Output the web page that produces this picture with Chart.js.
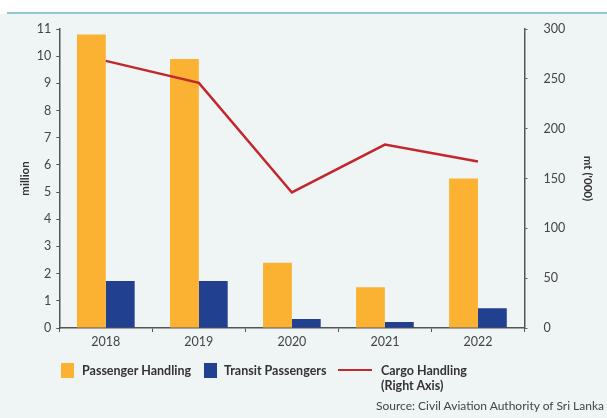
<!DOCTYPE html>
<html>
<head>
<meta charset="utf-8">
<script src="https://cdn.jsdelivr.net/npm/chart.js@4.4.0/dist/chart.umd.min.js"></script>
<style>
  html, body { margin: 0; padding: 0; background: #ffffff; }
  #wrap { position: relative; width: 607px; height: 418px; overflow: hidden; font-family: Lato, "DejaVu Sans", sans-serif; }
  #panel { position: absolute; left: 0; top: 14px; width: 607px; height: 404px; background: #eff4f4; }
  #rule { position: absolute; left: 7px; top: 12px; width: 600px; height: 2px; background: #8fcad0; }
  #chart { position: absolute; left: 0; top: 0; }
  .leg { position: absolute; font-size: 12.5px; font-weight: bold; color: #333; line-height: 15px; }
  .box { position: absolute; width: 13px; height: 15px; }
  #source { position: absolute; right: 3px; top: 398px; font-size: 12px; color: #444; }
</style>
</head>
<body>
<div id="wrap">
  <div id="panel"></div>
  <div id="rule"></div>
  <canvas id="chart" width="607" height="418"></canvas>
  <div class="box" style="left:61px; top:363px; background:#fbb233;"></div>
  <div class="leg" style="left:82px; top:363px;">Passenger Handling</div>
  <div class="box" style="left:204px; top:363px; background:#21408f;"></div>
  <div class="leg" style="left:224px; top:363px;">Transit Passengers</div>
  <div style="position:absolute; left:338px; top:369px; width:34px; height:2px; background:#c2272d;"></div>
  <div class="leg" style="left:381px; top:363px;">Cargo Handling<br>(Right Axis)</div>
  <div id="source">Source: Civil Aviation Authority of Sri Lanka</div>
</div>
<script>
var years = ["2018", "2019", "2020", "2021", "2022"];
var passengerHandling = [10.8, 9.9, 2.4, 1.5, 5.5];
var transitPassengers = [1.73, 1.73, 0.33, 0.22, 0.73];
var cargoHandling = [268, 246, 136, 184, 167];

var tickFont = { family: "Lato, 'DejaVu Sans', sans-serif", size: 12.5 };

new Chart("chart", {
    type: "bar",
    data: {
        labels: years,
        datasets: [{
            type: "line",
            label: "Cargo Handling (Right Axis)",
            data: cargoHandling,
            yAxisID: "y1",
            borderColor: "#c2272d",
            borderWidth: 2.5,
            pointRadius: 0,
            tension: 0,
            order: 0
        }, {
            label: "Passenger Handling",
            data: passengerHandling,
            backgroundColor: "#fbb233",
            barPercentage: 1,
            categoryPercentage: 0.62,
            order: 1
        }, {
            label: "Transit Passengers",
            data: transitPassengers,
            backgroundColor: "#21408f",
            barPercentage: 1,
            categoryPercentage: 0.62,
            order: 1
        }]
    },
    options: {
        responsive: false,
        animation: false,
        layout: { padding: { top: 29, bottom: 67, left: 18, right: 12 } },
        plugins: {
            legend: { display: false },
            tooltip: { enabled: false }
        },
        scales: {
            x: {
                grid: { display: true, drawOnChartArea: false, drawTicks: true, tickLength: 4, color: "#555" },
                border: { display: true, color: "#555", width: 1.5 },
                ticks: { color: "#444", font: tickFont, padding: 2 }
            },
            y: {
                position: "left",
                min: 0,
                max: 11,
                ticks: { stepSize: 1, color: "#444", font: tickFont, padding: 5 },
                grid: { display: true, drawOnChartArea: false, drawTicks: true, tickLength: 3, color: "#555" },
                border: { display: true, color: "#555", width: 1.5 },
                title: { display: true, text: "million", color: "#333", font: { family: tickFont.family, size: 11.5, weight: "bold" }, padding: 0 }
            },
            y1: {
                position: "right",
                min: 0,
                max: 300,
                ticks: { stepSize: 50, color: "#444", font: tickFont, padding: 16 },
                grid: { display: true, drawOnChartArea: false, drawTicks: true, tickLength: 3, color: "#555" },
                border: { display: true, color: "#555", width: 1.5 },
                title: { display: true, text: "mt ('000)", color: "#333", font: { family: tickFont.family, size: 11.5, weight: "bold" }, padding: 0 }
            }
        }
    }
});
</script>
</body>
</html>
